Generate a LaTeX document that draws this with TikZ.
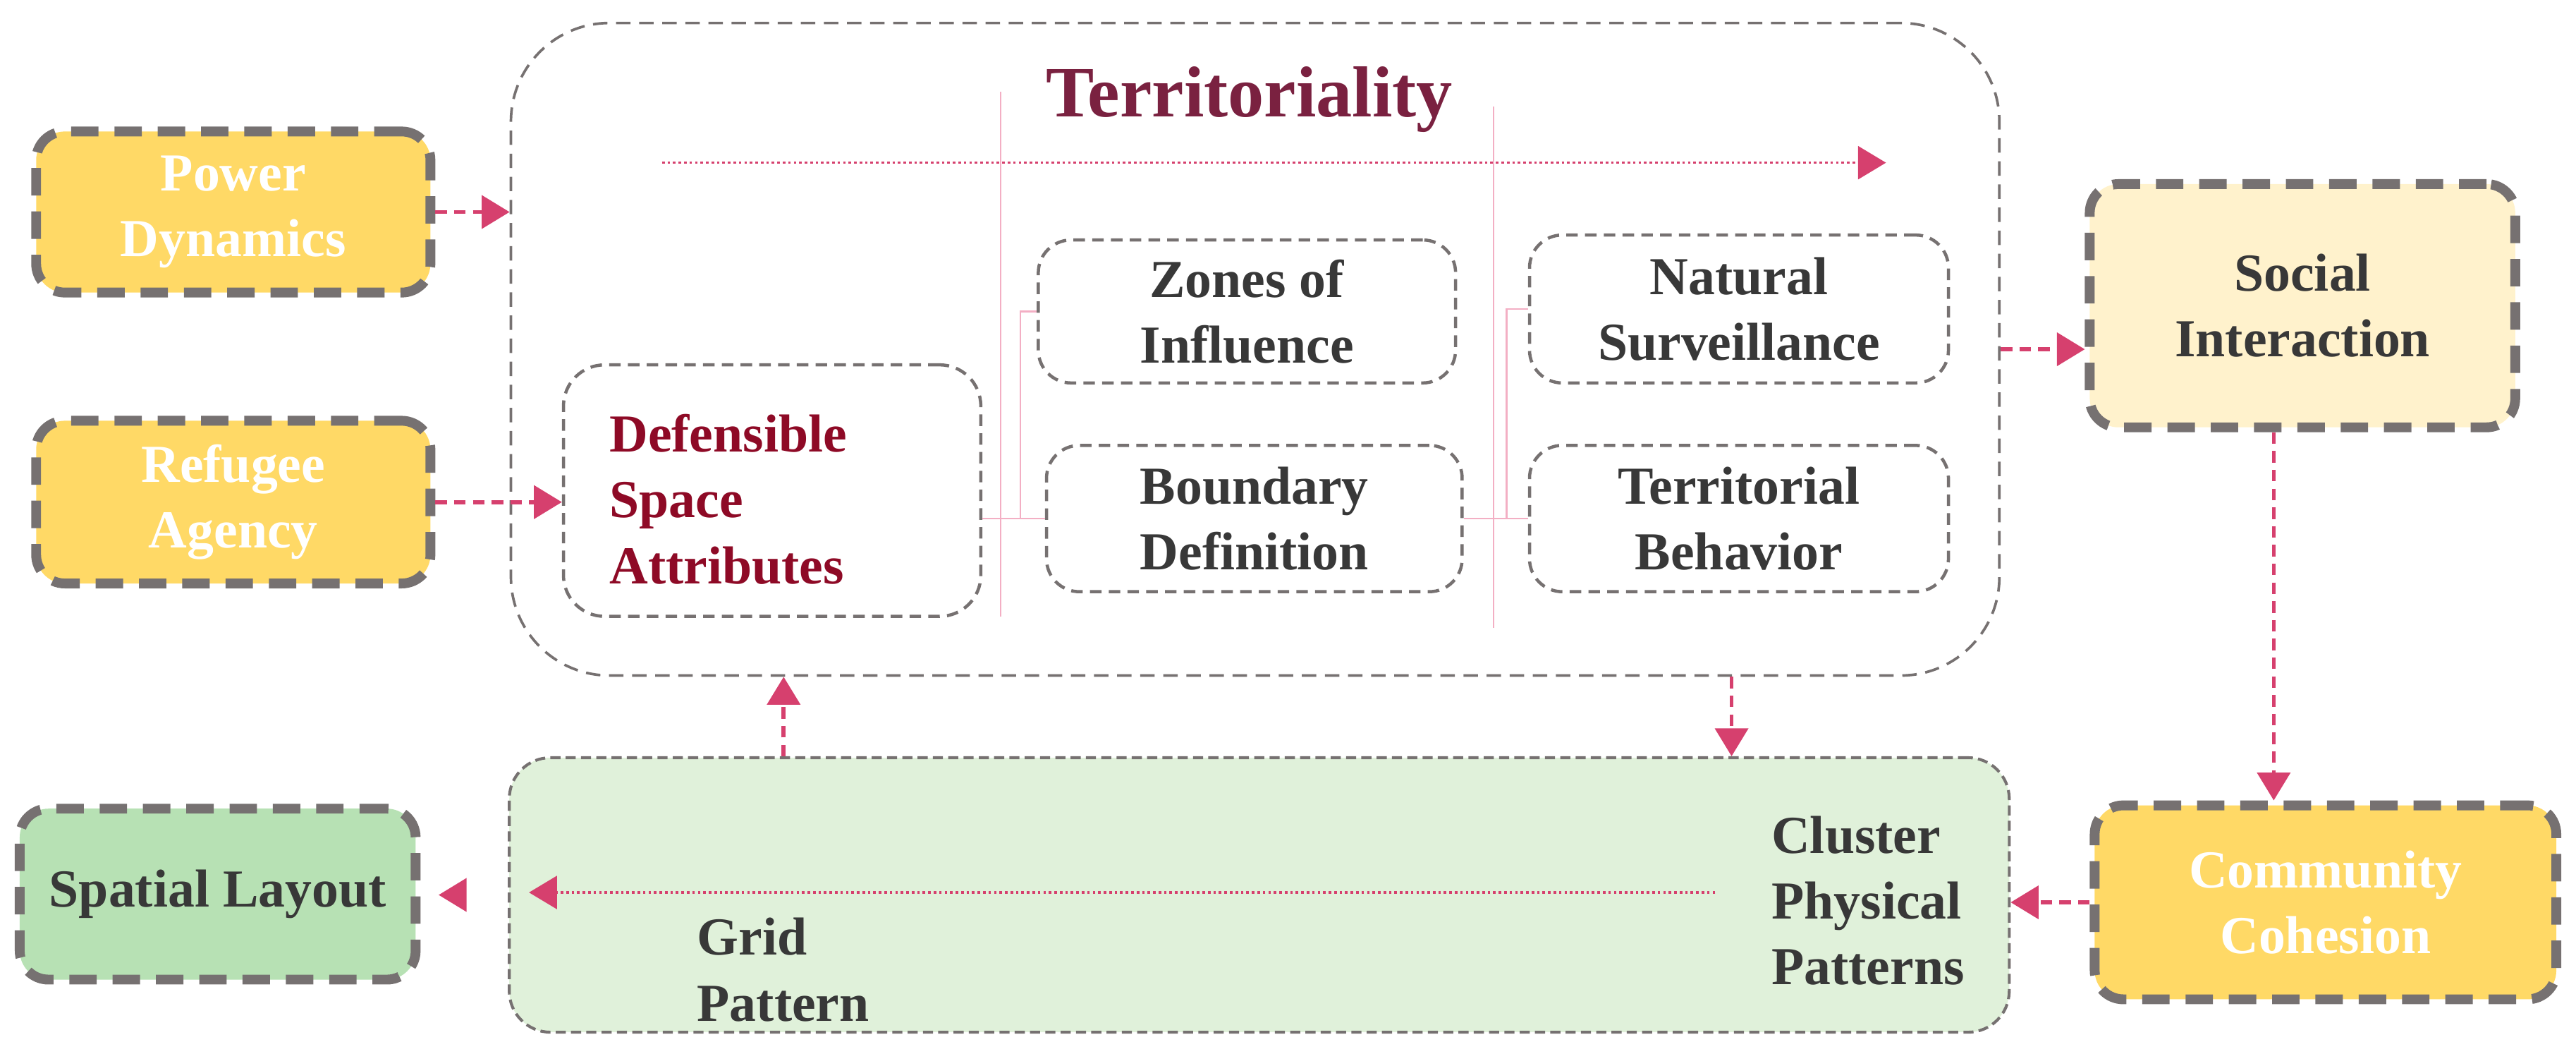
\documentclass[tikz,border=0pt]{standalone}
\usepackage{fontspec}
\setmainfont{Liberation Serif}
\usetikzlibrary{arrows.meta}
\definecolor{edge_gray}{HTML}{767171}
\definecolor{link_pink}{HTML}{D6406E}
\definecolor{soft_pink}{HTML}{F3AFC4}
\definecolor{gold_fill}{HTML}{FFD966}
\definecolor{cream_fill}{HTML}{FFF2CC}
\definecolor{mint_fill}{HTML}{E0F1DA}
\definecolor{leaf_fill}{HTML}{B7E1B4}
\definecolor{title_red}{HTML}{7A2140}
\definecolor{deep_red}{HTML}{8E0A26}
\definecolor{ink_gray}{HTML}{383838}

\begin{document}
\begin{tikzpicture}[
	strong_box/.style={rectangle,rounded corners=0.35cm,draw=edge_gray,line width=3.4pt,dash pattern=on 9.5pt off 5.5pt,inner sep=0pt,align=center,text=ink_gray,font=\bfseries\fontsize{18.5}{22.8}\selectfont},
	light_box/.style={rectangle,rounded corners=0.4cm,draw=edge_gray,line width=1.1pt,dash pattern=on 4pt off 2.5pt,inner sep=0pt,align=center,text=ink_gray,font=\bfseries\fontsize{18.5}{22.8}\selectfont,execute at begin node={\rule{0pt}{19pt}}},
	plain_text/.style={inner sep=0pt,align=left,text=ink_gray,font=\bfseries\fontsize{18.5}{22.8}\selectfont},
	conn/.style={draw=link_pink,line width=1.4pt,dash pattern=on 4pt off 2.5pt,-{Triangle[length=0.34cm,width=0.4cm]}},
	flow/.style={draw=link_pink,line width=0.9pt,densely dotted,-{Triangle[length=0.34cm,width=0.4cm]}},
	bracket/.style={draw=soft_pink,line width=0.6pt}]
	\useasboundingbox (0,0) rectangle (31.36,-12.82);

	\node[light_box,rounded corners=1.2cm,line width=0.9pt,dash pattern=on 5pt off 3pt,minimum width=18.12cm,minimum height=7.94cm] (main) at (15.28,-4.25) {};
	\node[light_box,rounded corners=0.5cm,fill=mint_fill,line width=1pt,dash pattern=on 3.5pt off 1.8pt,minimum width=18.26cm,minimum height=3.34cm] (green) at (15.33,-10.89) {};

	\node[strong_box,fill=gold_fill,text=white,minimum width=4.8cm,minimum height=1.96cm] (power) at (2.84,-2.58) {Power\\Dynamics};
	\node[strong_box,fill=gold_fill,text=white,minimum width=4.8cm,minimum height=1.98cm] (refugee) at (2.84,-6.11) {Refugee\\Agency};
	\node[strong_box,fill=cream_fill,minimum width=5.18cm,minimum height=2.96cm] (social) at (28.03,-3.72) {Social\\Interaction};
	\node[strong_box,fill=gold_fill,text=white,minimum width=5.62cm,minimum height=2.36cm] (community) at (28.31,-10.98) {Community\\Cohesion};
	\node[strong_box,fill=leaf_fill,minimum width=4.82cm,minimum height=2.08cm] (spatial) at (2.65,-10.88) {Spatial Layout};

	\node[font=\bfseries\fontsize{25}{30}\selectfont,text=title_red,anchor=base] (title) at (15.21,-1.42) {Territoriality};
	\node[light_box,rounded corners=0.5cm,text=deep_red,align=left,text width=3.96cm,minimum width=5.08cm,minimum height=3.06cm] (defensible) at (9.4,-5.97) {Defensible\\Space\\Attributes};
	\node[light_box,minimum width=5.08cm,minimum height=1.74cm] (zones) at (15.18,-3.79) {Zones of\\Influence};
	\node[light_box,minimum width=5.06cm,minimum height=1.78cm] (boundary) at (15.27,-6.31) {Boundary\\Definition};
	\node[light_box,minimum width=5.1cm,minimum height=1.8cm] (natural) at (21.17,-3.76) {Natural\\Surveillance};
	\node[light_box,minimum width=5.1cm,minimum height=1.78cm] (territorial) at (21.17,-6.31) {Territorial\\Behavior};

	\node[plain_text,anchor=west] (cluster) at (21.56,-10.96) {Cluster\\Physical\\Patterns};
	\node[plain_text,anchor=west] (grid) at (8.48,-11.8) {Grid\\Pattern};

	\coordinate (flow_a) at (8.06,-1.98);
	\coordinate (flow_b) at (22.96,-1.98);
	\coordinate (flow_c) at (20.88,-10.86);
	\coordinate (flow_d) at (6.44,-10.86);
	\coordinate (rule_a) at (12.18,-1.12);
	\coordinate (rule_b) at (12.18,-7.5);
	\coordinate (rule_c) at (18.18,-1.3);
	\coordinate (rule_d) at (18.18,-7.64);

	\draw[bracket] (rule_a) -- (rule_b);
	\draw[bracket] (rule_c) -- (rule_d);
	\draw[bracket] (defensible.east |- boundary.west) -- (boundary.west);
	\draw[bracket] (zones.west) -- ++(-0.2,0) |- (boundary.west);
	\draw[bracket] (boundary.east) -- (territorial.west);
	\draw[bracket] (natural.west) -- ++(-0.26,0) |- (territorial.west);

	\draw[flow] (flow_a) -- (flow_b);
	\draw[flow] (flow_c) -- (flow_d);

	\draw{(power.east) edge[conn] (power.east -| main.west)};
	\draw{(refugee.east) edge[conn] (refugee.east -| defensible.west)};
	\draw{(main.east) edge[conn] (main.east -| social.west)};
	\draw{([xshift=-0.35cm]social.south) edge[conn] ([xshift=-0.35cm]social.south |- community.north)};
	\draw{(community.west) edge[conn] (community.west -| green.east)};
	\draw{(green.west) edge[conn,dash pattern=on 0pt off 3cm,shorten >=0.22cm] (green.west -| spatial.east)};
	\draw{([xshift=-5.79cm]green.north) edge[conn] ([xshift=-5.79cm]green.north |- main.south)};
	\draw{([xshift=5.8cm]main.south) edge[conn] ([xshift=5.8cm]main.south |- green.north)};
\end{tikzpicture}
\end{document}
